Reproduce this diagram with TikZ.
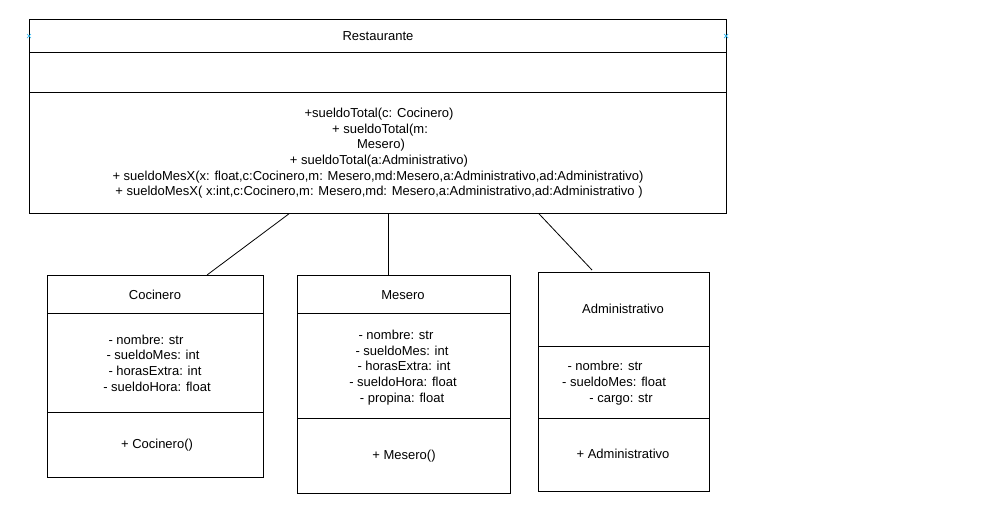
\documentclass[tikz,border=0pt]{standalone}
\usepackage{fontspec}
\setmainfont{Liberation Sans}
\usetikzlibrary{calc}
\begin{document}
\begin{tikzpicture}[x=1pt,y=-1pt,line width=0.8pt,
  box/.style={draw,rectangle,inner sep=0pt,anchor=north west},
  txt/.style={font=\fontsize{13}{15}\selectfont,inner sep=0pt,text height=9.5pt,text depth=2.5pt,anchor=center,yshift=-1pt},
  conn/.style={draw,line width=0.8pt},
  selmark/.style={draw={rgb,255:red,41;green,182;blue,242},line width=0.7pt}]
\useasboundingbox (0,0) rectangle (1000,520);
\fill[white] (0,0) rectangle (1000,520);

% Restaurante
\node[box,minimum width=697pt,minimum height=194pt] (rest) at (29,19) {};
\draw (29,52) -- (726,52);
\draw (29,92) -- (726,92);
\node[txt] (rt) at (378,36) {Restaurante};
\node[txt] (r1) at (379,113) {+sueldoTotal(c: Cocinero)};
\node[txt] (r2) at (380,129) {+ sueldoTotal(m:};
\node[txt] (r3) at (381,144) {Mesero)};
\node[txt] (r4) at (379,160) {+ sueldoTotal(a:Administrativo)};
\node[txt] (r5) at (378,176) {+ sueldoMesX(x: float,c:Cocinero,m: Mesero,md:Mesero,a:Administrativo,ad:Administrativo)};
\node[txt] (r6) at (379,191) {+ sueldoMesX( x:int,c:Cocinero,m: Mesero,md: Mesero,a:Administrativo,ad:Administrativo )};
\draw[selmark] (27,34) -- (31,38) (27,38) -- (31,34);
\draw[selmark] (724,34) -- (728,38) (724,38) -- (728,34);

% Cocinero
\node[box,minimum width=216pt,minimum height=202pt] (coc) at (47,275) {};
\draw (47,313) -- (263,313);
\draw (47,412) -- (263,412);
\node[txt] (ct) at (155,295) {Cocinero};
\node[txt] (c1) at (146,340) {- nombre: str};
\node[txt] (c2) at (153,355) {- sueldoMes: int};
\node[txt] (c3) at (155,371) {- horasExtra: int};
\node[txt] (c4) at (157,387) {- sueldoHora: float};
\node[txt] (cm) at (157,444) {+ Cocinero()};

% Mesero
\node[box,minimum width=213pt,minimum height=218pt] (mes) at (297,275) {};
\draw (297,313) -- (510,313);
\draw (297,418) -- (510,418);
\node[txt] (mt) at (403,295) {Mesero};
\node[txt] (m1) at (396,335) {- nombre: str};
\node[txt] (m2) at (402,351) {- sueldoMes: int};
\node[txt] (m3) at (404,366) {- horasExtra: int};
\node[txt] (m4) at (403,382) {- sueldoHora: float};
\node[txt] (m5) at (402,398) {- propina: float};
\node[txt] (mm) at (404,455) {+ Mesero()};

% Administrativo
\node[box,minimum width=171pt,minimum height=219pt] (adm) at (538,272) {};
\draw (538,346) -- (709,346);
\draw (538,418) -- (709,418);
\node[txt] (at) at (623,309) {Administrativo};
\node[txt] (a1) at (605,366) {- nombre: str};
\node[txt] (a2) at (614,382) {- sueldoMes: float};
\node[txt] (a3) at (621,398) {- cargo: str};
\node[txt] (am) at (623,454) {+ Administrativo};

% connectors
\draw[conn] ($(rest.south west)+(260,0)$) -- ($(coc.north west)+(160,0)$);
\draw[conn] ($(rest.south west)+(359,0)$) -- ($(mes.north west)+(91,0)$);
\draw[conn] ($(rest.south west)+(510,0)$) -- ($(adm.north west)+(54,-2)$);
\end{tikzpicture}
\end{document}
